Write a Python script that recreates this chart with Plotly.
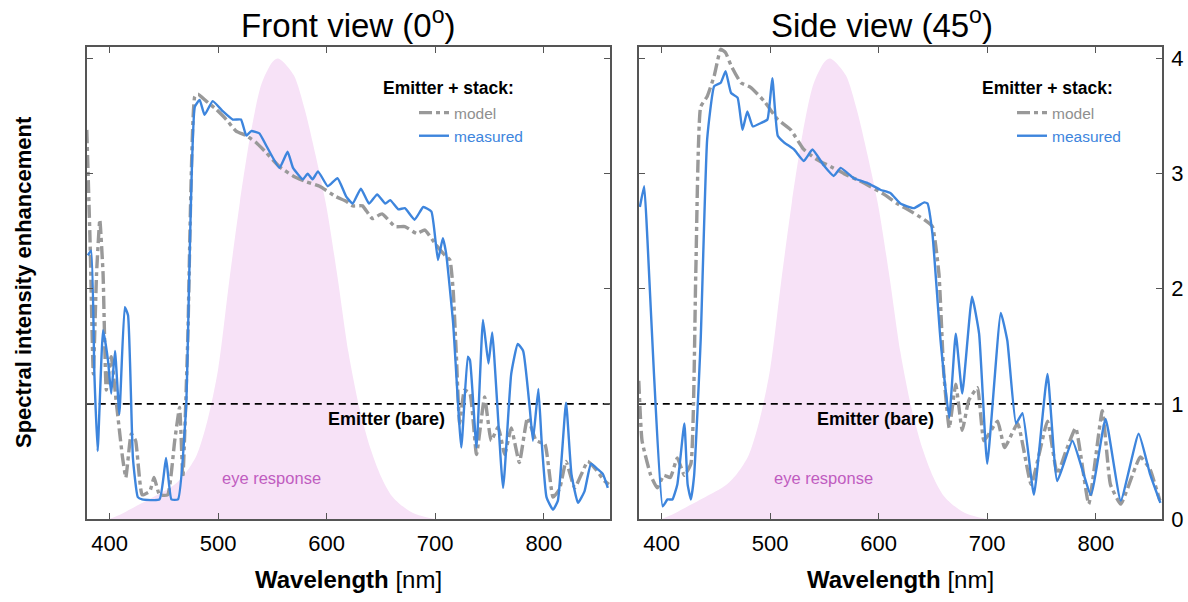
import plotly.graph_objects as go

# ---------------- data ----------------
eye_wl = [400, 410, 420, 430, 440, 450, 460, 470, 480, 490, 500, 510, 520, 530, 540, 550, 555,
          560, 570, 580, 590, 600, 610, 620, 630, 640, 650, 660, 670, 680, 690, 700]
eye_val = [0, 0.04, 0.09, 0.14, 0.19, 0.24, 0.30, 0.40, 0.55, 0.85, 1.30, 2.05, 2.75, 3.35, 3.78, 3.97, 4.0,
           3.97, 3.85, 3.55, 3.15, 2.70, 2.10, 1.45, 0.97, 0.62, 0.37, 0.20, 0.11, 0.05, 0.02, 0]

bare_wl = [379, 861]
bare_val = [1, 1]

front_meas_wl = [380, 383, 386, 389, 394, 398.5, 401.5, 405, 409, 414, 417, 421.5, 426, 430, 446, 452, 457, 463,
                 470.5, 478.5, 483, 487.5, 495, 504.5, 513.5, 521, 526, 530.5, 538, 544.5, 556.5, 564, 569,
                 578, 582.5, 587, 592, 601, 610, 618, 624, 631.5, 639, 646.5, 654, 658.5, 666, 672, 681, 689,
                 696.5, 702.5, 707, 710, 716.5, 724, 730, 732, 738, 744, 749, 752.5, 762.5, 770, 776, 781,
                 787, 790, 795, 798, 802.5, 808.5, 813, 820.5, 825.5, 831.5, 837.5, 843.5, 850, 854.5, 859]
front_meas = [2.29, 2.33, 1.26, 0.59, 1.64, 1.38, 1.09, 1.46, 0.91, 1.84, 1.77, 0.53, 0.19, 0.17, 0.17, 0.53, 0.17, 0.17,
              0.97, 3.58, 3.64, 3.51, 3.63, 3.54, 3.47, 3.47, 3.33, 3.37, 3.35, 3.24, 3.05, 3.19, 3.05,
              2.95, 3.00, 2.95, 3.02, 2.89, 2.96, 2.80, 2.74, 2.87, 2.74, 2.82, 2.74, 2.77, 2.69, 2.70, 2.60, 2.71,
              2.67, 2.25, 2.44, 2.31, 1.70, 0.62, 1.41, 1.38, 0.62, 1.73, 1.35, 1.62, 0.27, 1.26, 1.52, 1.46,
              0.97, 0.68, 1.13, 0.68, 0.19, 0.08, 0.16, 1.01, 0.39, 0.14, 0.24, 0.48, 0.43, 0.39, 0.27]

front_model_wl = [379, 382, 385, 388, 391, 394, 397, 401.5, 406, 412, 415, 420, 424, 430, 437, 441, 446, 453.5,
                  460, 464.5, 467.5, 472, 478.5, 481.5, 489, 498, 507.5, 516.5, 526, 535, 544.5, 556.5, 569,
                  581, 593.5, 608.5, 618, 624, 633, 642, 651, 663, 672, 683, 690.5, 700, 709, 713.5, 716.5,
                  719.5, 722.5, 727, 732, 738, 745.5, 751.5, 758, 764, 770, 777.5, 785, 793, 801, 808.5, 814.5,
                  820.5, 828.5, 840.5, 848, 856, 860]
front_model = [3.38, 2.42, 1.26, 2.13, 2.60, 2.13, 1.12, 1.41, 1.03, 0.53, 0.36, 0.74, 0.68, 0.21, 0.24, 0.36, 0.21, 0.21,
               0.68, 0.97, 0.36, 1.55, 3.67, 3.69, 3.63, 3.56, 3.47, 3.37, 3.33, 3.27, 3.18, 3.06, 2.98,
               2.93, 2.89, 2.80, 2.76, 2.72, 2.72, 2.61, 2.65, 2.54, 2.54, 2.48, 2.51, 2.39, 2.29, 2.25, 1.99,
               1.41, 0.83, 1.12, 1.09, 0.56, 1.06, 0.68, 0.80, 0.56, 0.79, 0.49, 0.88, 0.68, 0.65, 0.19, 0.26,
               0.50, 0.27, 0.50, 0.43, 0.33, 0.30]

side_meas_wl = [380, 384, 387, 393, 401, 405.5, 410, 414.5, 421, 424, 427, 430, 436, 442, 448.5, 454.5, 459, 464,
                470, 474.5, 479, 484, 491.5, 497.5, 502, 507, 513, 522, 531, 539, 549.5, 558.5, 565, 577,
                589.5, 601.5, 611, 620, 632.5, 642, 645, 649.5, 657, 665, 671, 677, 686, 692.5, 700, 712.5,
                718.5, 726.5, 732.5, 743, 755.5, 764.5, 778.5, 795.5, 809, 823, 839.5, 850, 859.5]
side_meas = [2.71, 2.89, 2.42, 1.26, 0.11, 0.17, 0.17, 0.30, 0.83, 0.30, 0.17, 0.38, 1.55, 3.30, 3.76, 3.79, 3.89, 3.70,
             3.66, 3.38, 3.54, 3.41, 3.44, 3.47, 3.83, 3.33, 3.27, 3.21, 3.11, 3.21, 3.07, 2.98, 3.05, 2.96,
             2.92, 2.86, 2.83, 2.74, 2.70, 2.75, 2.74, 2.48, 1.55, 0.88, 1.61, 1.09, 1.93, 1.61, 0.48, 1.79,
             1.55, 0.83, 0.92, 0.21, 1.26, 0.33, 0.68, 0.21, 0.87, 0.16, 0.74, 0.39, 0.14]

side_model_wl = [379, 382, 390, 396, 402, 408, 414.5, 421, 427, 431.5, 436, 442, 448.5, 454.5, 459, 464, 473, 482,
                 494.5, 507, 519, 531, 543.5, 556, 568, 586, 605, 617, 626.5, 642, 649.5, 655.5, 660, 665,
                 671, 677, 683, 691, 697, 709.5, 716, 728, 740.5, 755.5, 764.5, 772.5, 781.5, 793.5, 806, 813.5,
                 823, 841, 850, 859]
side_model = [1.20, 0.68, 0.38, 0.27, 0.38, 0.36, 0.53, 0.38, 0.48, 2.13, 3.58, 3.67, 3.85, 4.08, 4.05, 3.94, 3.79, 3.75,
              3.63, 3.47, 3.38, 3.21, 3.12, 3.06, 3.00, 2.92, 2.82, 2.74, 2.69, 2.60, 2.54, 2.13, 1.26, 0.79,
              1.17, 0.77, 1.03, 1.14, 0.68, 0.85, 0.62, 0.83, 0.30, 0.85, 0.39, 0.59, 0.79, 0.13, 0.94, 0.30,
              0.13, 0.54, 0.43, 0.16]

panel_titles = ["Front view (0<sup>o</sup>)", "Side view (45<sup>o</sup>)"]
x_ticks = [400, 500, 600, 700, 800]
y_ticks = [0, 1, 2, 3, 4]

# ---------------- styles ----------------
FONT = "Liberation Sans, Arial, Helvetica, sans-serif"
BLUE = "#3d85dd"
GRAY = "#999999"
PINK = "rgba(247,226,247,1)"
EYE_TXT = "#c05cc0"
FRAME = "#555555"

fig = go.Figure()

panels = [
    ("x", "y", front_meas_wl, front_meas, front_model_wl, front_model, "legend"),
    ("x2", "y2", side_meas_wl, side_meas, side_model_wl, side_model, "legend2"),
]

for xa, ya, mwl, mv, gwl, gv, lg in panels:
    fig.add_trace(go.Scatter(x=eye_wl, y=eye_val, xaxis=xa, yaxis=ya, mode="lines",
                             line=dict(width=0, shape="spline", smoothing=0.8, color=PINK),
                             fill="tozeroy", fillcolor=PINK, showlegend=False, hoverinfo="skip"))
    fig.add_trace(go.Scatter(x=bare_wl, y=bare_val, xaxis=xa, yaxis=ya, mode="lines",
                             line=dict(width=1.7, color="black", dash="7px,5px"),
                             showlegend=False))
    fig.add_trace(go.Scatter(x=gwl, y=gv, xaxis=xa, yaxis=ya, mode="lines",
                             name="<span style='color:#8f8f8f'>model</span>",
                             line=dict(width=3.4, color=GRAY, dash="13px,4px,4px,4px",
                                       shape="spline", smoothing=0.4),
                             legend=lg))
    fig.add_trace(go.Scatter(x=mwl, y=mv, xaxis=xa, yaxis=ya, mode="lines",
                             name="<span style='color:%s'>measured</span>" % BLUE,
                             line=dict(width=2.4, color=BLUE, shape="spline", smoothing=0.4),
                             legend=lg))

ax_common = dict(range=[379.2, 861], tickvals=x_ticks, ticks="inside", ticklen=6, tickwidth=1,
                 tickcolor=FRAME, showline=True, linecolor=FRAME, linewidth=1.5, mirror="ticks",
                 showgrid=False, zeroline=False, ticklabelstandoff=4, automargin=False,
                 tickfont=dict(family=FONT, size=22, color="black"),
                 title=dict(text="<b>Wavelength</b> [nm]", font=dict(family=FONT, size=24, color="black"),
                            standoff=16))
ay_common = dict(range=[0, 4.1], tickvals=y_ticks, ticks="inside", ticklen=6, tickwidth=1,
                 tickcolor=FRAME, showline=True, linecolor=FRAME, linewidth=1.5, mirror="ticks",
                 showgrid=False, zeroline=False, side="right", ticklabelstandoff=3, automargin=False,
                 tickfont=dict(family=FONT, size=22, color="black"))

ydom = [1 - 519 / 602, 1 - 47 / 602]
fig.update_layout(
    width=1188, height=602,
    margin=dict(l=0, r=0, t=0, b=0, autoexpand=False),
    plot_bgcolor="white", paper_bgcolor="white",
    font=dict(family=FONT, color="black"),
    xaxis=dict(domain=[87 / 1188, 610 / 1188], anchor="y", **ax_common),
    yaxis=dict(domain=ydom, anchor="x", showticklabels=False, **ay_common),
    xaxis2=dict(domain=[639 / 1188, 1162 / 1188], anchor="y2", **ax_common),
    yaxis2=dict(domain=ydom, anchor="x2", **ay_common),
    legend=dict(x=414 / 1188, y=1 - 96 / 602, xanchor="left", yanchor="top",
                bgcolor="rgba(0,0,0,0)", font=dict(family=FONT, size=15.5),
                itemwidth=30, tracegroupgap=0, traceorder="normal"),
    legend2=dict(x=1012 / 1188, y=1 - 96 / 602, xanchor="left", yanchor="top",
                 bgcolor="rgba(0,0,0,0)", font=dict(family=FONT, size=15.5),
                 itemwidth=30, tracegroupgap=0, traceorder="normal"),
)

ann = []
# panel titles
for txt, xc in zip(panel_titles, [348 / 1188, 882 / 1188]):
    ann.append(dict(text=txt, x=xc, y=1 - 23 / 602, xref="paper", yref="paper", showarrow=False,
                    font=dict(family=FONT, size=33, color="black"), xanchor="center", yanchor="middle"))
# legend headers
for xc in [448 / 1188, 1047 / 1188]:
    ann.append(dict(text="<b>Emitter + stack:</b>", x=xc, y=1 - 88 / 602, xref="paper", yref="paper",
                    showarrow=False, font=dict(family=FONT, size=17.5, color="black"),
                    xanchor="center", yanchor="middle"))
# Emitter (bare) labels and eye response labels
for xr, yr, xv in [("x", "y", 655.5), ("x2", "y2", 597.5)]:
    ann.append(dict(text="<b>Emitter (bare)</b>", x=xv, y=0.87, xref=xr, yref=yr, showarrow=False,
                    font=dict(family=FONT, size=18, color="black"), xanchor="center", yanchor="middle"))
    ann.append(dict(text="eye response", x=549.5, y=0.36, xref=xr, yref=yr,
                    showarrow=False, font=dict(family=FONT, size=16.5, color=EYE_TXT),
                    xanchor="center", yanchor="middle"))
# y axis title
ann.append(dict(text="<b>Spectral intensity enhancement</b>", x=23 / 1188, y=1 - 282 / 602,
                xref="paper", yref="paper", showarrow=False, textangle=-90,
                font=dict(family=FONT, size=22, color="black"), xanchor="center", yanchor="middle"))
fig.update_layout(annotations=ann)

fig.write_html("out.html")
